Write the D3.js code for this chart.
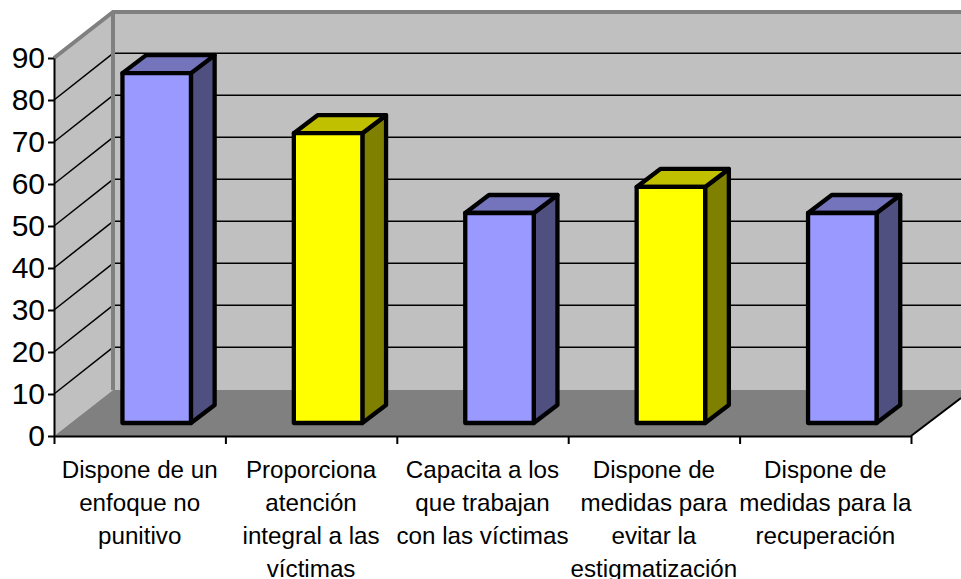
<!DOCTYPE html>
<html><head><meta charset="utf-8">
<script src="https://cdn.jsdelivr.net/npm/d3@7/dist/d3.min.js"></script>
<style>html,body{margin:0;padding:0;background:#fff;overflow:hidden}svg{display:block}text{font-family:"Liberation Sans",Arial,sans-serif;fill:#000}</style>
</head><body><svg id="c" width="961" height="579"></svg>
<script>
const categories = [
  ["Dispone de un","enfoque no","punitivo"],
  ["Proporciona","atención","integral a las","víctimas"],
  ["Capacita a los","que trabajan","con las víctimas"],
  ["Dispone de","medidas para","evitar la","estigmatización"],
  ["Dispone de","medidas para la","recuperación"]
];
const values = [83.3, 69, 50, 56.2, 50];
const yTicks = [0,10,20,30,40,50,60,70,80,90];

const svg = d3.select("#c");
const x0=54,x1=911,y0=436,y1=58,dx=59,dy=-46;
const gridDy=-46.7;
const y = d3.scaleLinear().domain([0,90]).range([y0,y1]);
const band = d3.scaleBand().domain(d3.range(categories.length)).range([x0,x1]);
const edge = d3.scaleLinear().domain([0,categories.length]).range([x0,x1]);
const line = p=>d3.line()(p);

// walls and floor
svg.append("path").attr("d",line([[x0+dx,y1+dy],[961,y1+dy],[961,y0+dy],[x0+dx,y0+dy]])+"Z").attr("fill","#c0c0c0");
svg.append("path").attr("d",line([[x0,y1],[x0+dx,y1+dy],[x0+dx,y0+dy],[x0,y0]])+"Z").attr("fill","#c0c0c0");
svg.append("path").attr("d",line([[x0,y0],[x0+dx,y0+dy],[961,y0+dy],[961,y0+dy+8],[x1,y0]])+"Z").attr("fill","#808080");

// gridlines
const grid = yTicks.filter(t=>t>0&&t<90);
svg.selectAll(".gb").data(grid).join("line").attr("x1",x0+dx).attr("x2",961)
  .attr("y1",d=>y(d)+gridDy).attr("y2",d=>y(d)+gridDy).attr("stroke","#000").attr("stroke-width",1.5);
svg.selectAll(".gs").data(grid).join("line").attr("x1",x0).attr("x2",x0+dx)
  .attr("y1",d=>y(d)).attr("y2",d=>y(d)+gridDy).attr("stroke","#000").attr("stroke-width",1.5);

// wall edges
svg.append("path").attr("d",line([[x0,y1],[x0+dx,y1+dy],[961,y1+dy]])).attr("fill","none").attr("stroke","#808080").attr("stroke-width",4);
svg.append("path").attr("d",line([[x0+dx,y1+dy],[x0+dx,y0+dy]])).attr("fill","none").attr("stroke","#808080").attr("stroke-width",4);

// bars
const barW=68.5, barDx=23.7, barDy=-18, floorFront=423, barOff=17;
const pal=[["#9999ff","#7474bd","#4f4f80"],["#ffff00","#c0c000","#808000"]];
const g=svg.selectAll(".bar").data(values).join("g");
g.each(function(v,i){
  const s=d3.select(this), c=pal[i%2];
  const l=band(i)+band.bandwidth()/2+barOff-barW/2, r=l+barW, b=floorFront, t=floorFront-(y0-y(v));
  const st=sel=>sel.attr("stroke","#000").attr("stroke-width",4.3).attr("stroke-linejoin","round");
  s.append("path").attr("d",line([[r,t],[r+barDx,t+barDy],[r+barDx,b+barDy],[r,b]])+"Z").attr("fill",c[2]).call(st);
  s.append("path").attr("d",line([[l,t],[l+barDx,t+barDy],[r+barDx,t+barDy],[r,t]])+"Z").attr("fill",c[1]).call(st);
  s.append("path").attr("d",line([[l,t],[r,t],[r,b],[l,b]])+"Z").attr("fill",c[0]).call(st);
});

// axes
const ya=svg.append("g").attr("transform",`translate(${x0},0)`)
  .call(d3.axisLeft(y).tickValues(yTicks).tickSize(6).tickSizeOuter(0).tickPadding(3));
ya.selectAll("path,line").attr("stroke","#000").attr("stroke-width",2);
ya.selectAll("text").attr("font-size",30).attr("font-family","Liberation Sans").attr("fill","#000");
const xa=svg.append("g").attr("transform",`translate(0,${y0})`)
  .call(d3.axisBottom(edge).tickValues(d3.range(categories.length+1)).tickFormat("").tickSize(8).tickSizeOuter(0));
xa.selectAll("path,line").attr("stroke","#000").attr("stroke-width",2);
svg.append("path").attr("d",line([[x1,y0],[961,y0-38]])).attr("stroke","#000").attr("stroke-width",2).attr("fill","none");

// category labels
categories.forEach((lines,i)=>{
  const t=svg.append("text").attr("text-anchor","middle").attr("font-size",24.2);
  lines.forEach((ln,k)=>t.append("tspan").attr("x",band(i)+band.bandwidth()/2).attr("y",477.5+k*33.2).text(ln));
});
</script></body></html>
